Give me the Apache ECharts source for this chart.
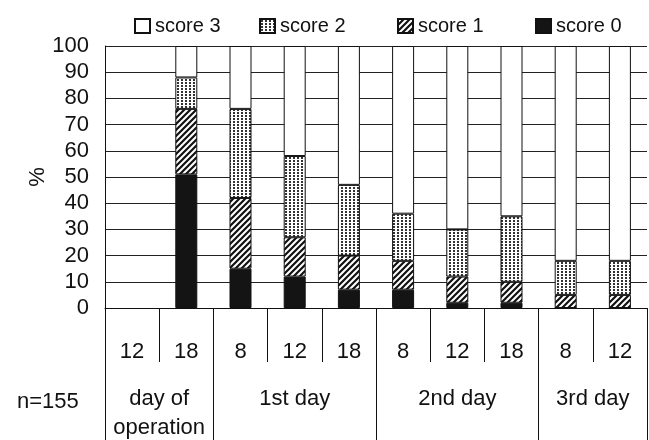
<!DOCTYPE html>
<html>
<head>
<meta charset="utf-8">
<script src="https://cdn.jsdelivr.net/npm/echarts@6/dist/echarts.min.js"></script>
<style>
html,body{margin:0;padding:0;background:#fff;}
#chart{width:649px;height:440px;}
</style>
</head>
<body>
<div id="chart"></div>
<script>
// ---- data ----
const categories = ['12', '18', '8', '12', '18', '8', '12', '18', '8', '12'];
const groupNames = ['day of\noperation', '1st day', '2nd day', '3rd day'];
const groupSpans = [2, 3, 3, 2];
const score0 = [null, 51, 15, 12, 7, 7, 2, 2, 0, 0];
const score1 = [null, 25, 27, 15, 13, 11, 10, 8, 5, 5];
const score2 = [null, 12, 34, 31, 27, 18, 18, 25, 13, 13];
const score3 = [null, 12, 24, 42, 53, 64, 70, 65, 82, 82];
const yTicks = [0, 10, 20, 30, 40, 50, 60, 70, 80, 90, 100];
const sampleLabel = 'n=155';

// ---- patterns ----
function dotTile() {
  const c = document.createElement('canvas');
  c.width = 4; c.height = 3;
  const g = c.getContext('2d');
  g.fillStyle = '#fff'; g.fillRect(0, 0, 4, 3);
  g.fillStyle = '#333'; g.fillRect(1, 1, 2, 2);
  return c;
}
function hatchTile() {
  const c = document.createElement('canvas');
  c.width = 6; c.height = 6;
  const g = c.getContext('2d');
  g.fillStyle = '#fff'; g.fillRect(0, 0, 6, 6);
  g.strokeStyle = '#111'; g.lineWidth = 2.2;
  g.beginPath();
  g.moveTo(-1, 7); g.lineTo(7, -1);
  g.moveTo(-4, 4); g.lineTo(4, -4);
  g.moveTo(2, 10); g.lineTo(10, 2);
  g.stroke();
  return c;
}
const dotPattern = { image: dotTile(), repeat: 'repeat' };
const hatchPattern = { image: hatchTile(), repeat: 'repeat' };

// group boundaries and centres (in category units)
const groupEdges = [0];
groupSpans.forEach(s => groupEdges.push(groupEdges[groupEdges.length - 1] + s));
const groupCenters = groupSpans.map((s, i) => groupEdges[i] + s / 2);

const FONT = 'Liberation Sans, Arial, Helvetica, sans-serif';
const INK = '#111';

const chart = echarts.init(document.getElementById('chart'));

function mkLegend(name, left) {
  return {
    data: [name], left: left, top: 11, icon: 'rect',
    itemWidth: 15, itemHeight: 14, itemGap: 0,
    selectedMode: false,
    textStyle: { fontFamily: FONT, fontSize: 20, color: INK }
  };
}

const barBase = { type: 'bar', stack: 'total', barWidth: 22, xAxisIndex: 0, yAxisIndex: 0 };

chart.setOption({
  animation: false,
  backgroundColor: '#fff',
  textStyle: { fontFamily: FONT },
  title: {
    text: sampleLabel, left: 12, top: 386,
    textStyle: { fontFamily: FONT, fontSize: 22, fontWeight: 'normal', color: INK }
  },
  legend: [
    mkLegend('score 3', 129),
    mkLegend('score 2', 254),
    mkLegend('score 1', 392),
    mkLegend('score 0', 530)
  ],
  grid: { left: 105, right: 2, top: 46, bottom: 132, containLabel: false, outerBoundsMode: 'none' },
  xAxis: [
    {
      type: 'category', data: categories, position: 'bottom',
      axisLine: { show: true, lineStyle: { color: INK, width: 1 } },
      axisTick: { show: true, length: 54, interval: 0, lineStyle: { color: INK } },
      axisLabel: { interval: 0, margin: 33, fontSize: 22, color: INK, fontFamily: FONT },
      splitLine: { show: false }
    },
    {
      type: 'value', position: 'bottom', min: 0, max: categories.length,
      axisLine: { show: false },
      axisTick: { show: true, length: 132, customValues: groupEdges, lineStyle: { color: INK } },
      axisLabel: {
        customValues: groupCenters, margin: 76, fontSize: 22, lineHeight: 29, color: INK, fontFamily: FONT,
        formatter: function (v) {
          const i = groupCenters.indexOf(v);
          return i >= 0 ? groupNames[i] : '';
        }
      },
      splitLine: { show: false }
    }
  ],
  yAxis: {
    type: 'value', min: 0, max: 100, interval: 10,
    name: '%', nameLocation: 'middle', nameRotate: 90, nameGap: 56, nameMoveOverlap: false,
    nameTextStyle: { fontSize: 22, color: INK, fontFamily: FONT },
    axisLine: { show: true, lineStyle: { color: INK } },
    axisTick: { show: false },
    axisLabel: {
      fontSize: 22, color: INK, margin: 16, fontFamily: FONT,
      customValues: yTicks
    },
    splitLine: { show: true, lineStyle: { color: '#222', width: 1 } }
  },
  series: [
    Object.assign({}, barBase, { name: 'score 0', data: score0,
      itemStyle: { color: '#141414', borderColor: INK, borderWidth: 1 } }),
    Object.assign({}, barBase, { name: 'score 1', data: score1,
      itemStyle: { color: hatchPattern, borderColor: INK, borderWidth: 1 } }),
    Object.assign({}, barBase, { name: 'score 2', data: score2,
      itemStyle: { color: dotPattern, borderColor: INK, borderWidth: 1 } }),
    Object.assign({}, barBase, { name: 'score 3', data: score3,
      itemStyle: { color: '#fff', borderColor: INK, borderWidth: 1 } })
  ]
});
</script>
</body>
</html>
